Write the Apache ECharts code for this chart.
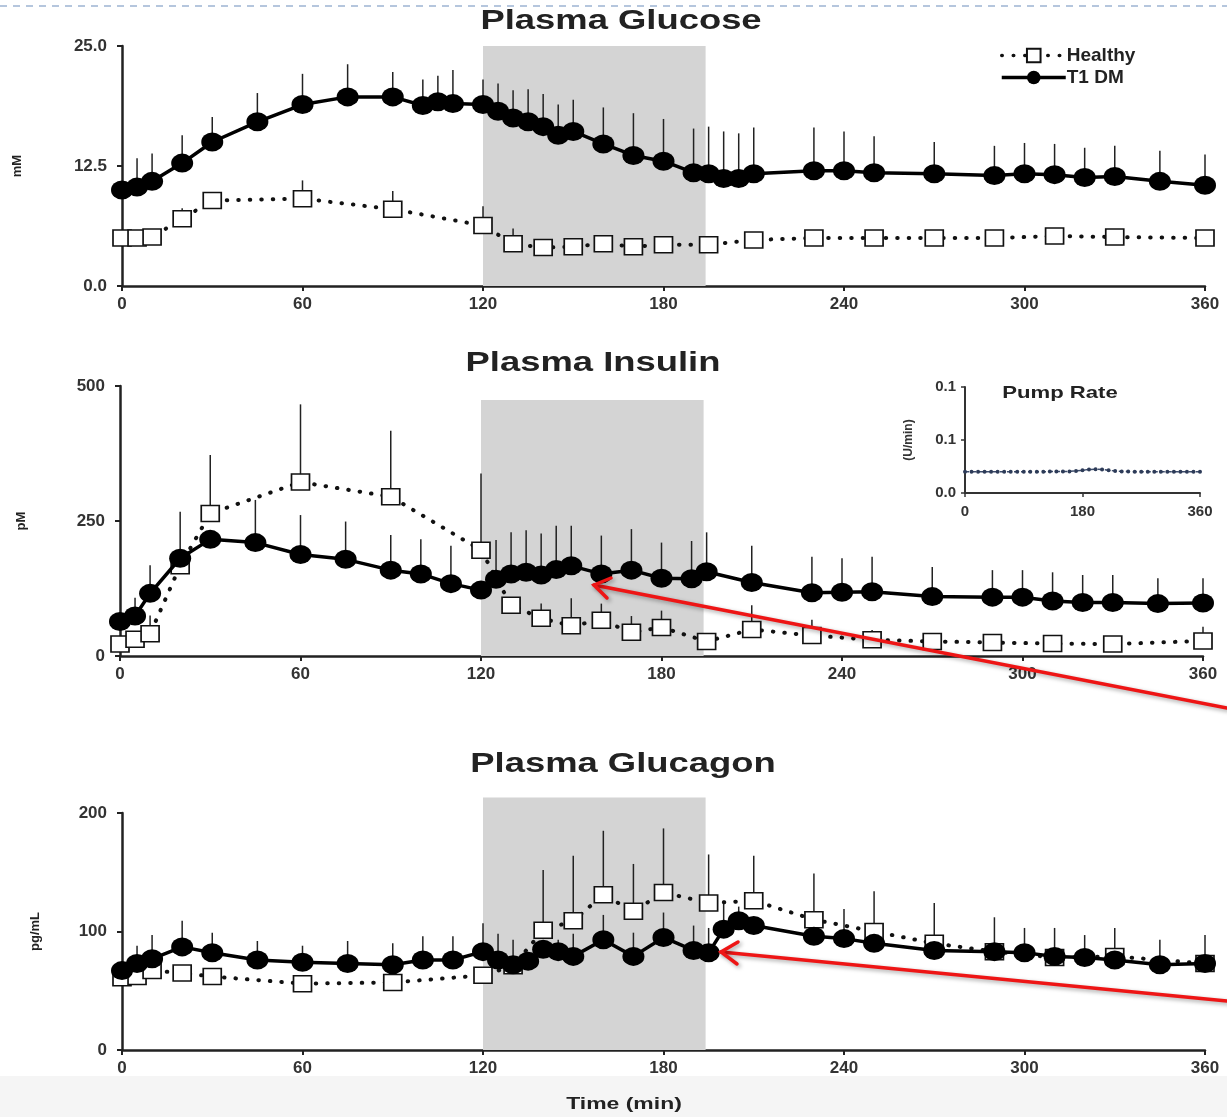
<!DOCTYPE html>
<html>
<head>
<meta charset="utf-8">
<script src="https://cdn.jsdelivr.net/npm/echarts@6/dist/echarts.min.js"></script>
<style>
  html, body { margin: 0; padding: 0; background: #fff; }
  #chart { width: 1227px; height: 1117px; }
</style>
</head>
<body>
<div id="chart"></div>
<script>
// shaded period (min)
var bandStart = 120;
var bandEnd = 194;

// Plasma glucose (mM)
var glucT1Time = [0,5,10,20,30,45,60,75,90,100,105,110,120,125,130,135,140,145,150,160,170,180,190,195,200,205,210,230,240,250,270,290,300,310,320,330,345,360];
var glucT1 = [10.0,10.3,10.9,12.8,15.0,17.1,18.9,19.7,19.7,18.8,19.2,19.0,18.9,18.2,17.5,17.1,16.6,15.7,16.1,14.8,13.6,13.0,11.8,11.7,11.2,11.2,11.7,12.0,12.0,11.8,11.7,11.5,11.7,11.6,11.3,11.4,10.9,10.5];
var glucT1Hi = [10.0,13.3,13.8,15.7,17.6,20.1,22.1,23.1,22.3,21.5,21.9,22.5,21.5,21.1,20.4,20.5,20.0,18.9,19.4,18.6,18.0,17.4,16.4,16.6,16.1,15.9,16.5,16.5,16.1,15.6,15.0,14.6,14.9,14.8,14.4,14.6,14.1,13.7];
var glucHTime = [0,5,10,20,30,60,90,120,130,140,150,160,170,180,195,210,230,250,270,290,310,330,360];
var glucH = [5.0,5.0,5.1,7.0,8.9,9.1,8.0,6.3,4.4,4.0,4.1,4.4,4.1,4.3,4.3,4.8,5.0,5.0,5.0,5.0,5.2,5.1,5.0];
var glucHHi = [5.0,5.0,5.0,8.1,8.9,11.0,9.9,8.3,6.0,4.5,4.7,4.9,4.6,4.8,4.6,5.0,5.0,5.0,5.0,5.0,5.3,5.1,5.0];

// Plasma insulin (pM)
var insT1Time = [0,5,10,20,30,45,60,75,90,100,110,120,125,130,135,140,145,150,160,170,180,190,195,210,230,240,250,270,290,300,310,320,330,345,360];
var insT1 = [64,74,116,181,216,210,188,179,159,152,134,122,142,152,155,150,160,167,152,159,144,143,156,136,117,118,119,110,109,109,102,99,99,97,98];
var insT1Hi = [64,108,168,267,216,289,261,249,224,216,204,122,215,229,233,227,241,241,223,235,210,213,229,204,184,181,184,165,159,159,155,150,150,144,144];
var insHTime = [0,5,10,20,30,60,90,120,130,140,150,160,170,180,195,210,230,250,270,290,310,330,360];
var insH = [22,31,41,167,264,322,295,196,94,70,56,66,44,53,27,49,38,30,27,25,23,22,28];
var insHHi = [22,31,75,167,372,466,417,338,94,97,107,97,74,84,27,94,67,48,41,39,30,28,54];

// Pump rate inset (U/min)
var pumpTime = [0,10,20,30,40,50,60,70,80,90,100,110,120,130,140,150,160,170,180,190,200,210,220,230,240,250,260,270,280,290,300,310,320,330,340,350,360];
var pumpRate = [0.020,0.020,0.020,0.020,0.020,0.020,0.020,0.020,0.020,0.020,0.020,0.020,0.020,0.0202,0.0202,0.0202,0.0204,0.0208,0.0214,0.0222,0.0224,0.0222,0.0214,0.0208,0.0204,0.0202,0.020,0.020,0.020,0.020,0.020,0.020,0.020,0.020,0.020,0.020,0.020];

// Plasma glucagon (pg/mL)
var gcgT1Time = [0,5,10,20,30,45,60,75,90,100,110,120,125,130,135,140,145,150,160,170,180,190,195,200,205,210,230,240,250,270,290,300,310,320,330,345,360];
var gcgT1 = [67,73,77,87,82,76,74,73,72,76,76,83,76,72,75,85,83,79,93,79,95,84,82,102,109,105,96,94,90,84,83,82,79,78,76,72,73];
var gcgT1Hi = [67,88,97,109,99,92,88,92,90,96,96,107,98,93,75,85,93,98,114,99,116,105,103,126,121,105,96,119,90,84,112,103,103,97,103,93,97];
var gcgHTime = [0,5,10,20,30,60,90,120,130,140,150,160,170,180,195,210,230,250,270,290,310,330,360];
var gcgH = [61,62,67,65,62,56,57,63,71,101,109,131,117,133,124,126,110,100,90,83,78,79,73];
var gcgHHi = [61,62,67,65,62,56,57,63,71,152,164,185,157,187,165,164,149,134,124,83,78,82,73];

function zip(t, v) { return t.map(function (x, i) { return [x, v[i]]; }); }
function zip3(t, v, h) { return t.map(function (x, i) { return [x, v[i], h[i]]; }); }

var font = 'Liberation Sans, Arial, sans-serif';
var axisColor = '#222';
var labelStyle = { color: '#333', fontSize: 17, fontWeight: 'bold', fontFamily: font };

function xAxisFor(gi) {
  return {
    type: 'value', gridIndex: gi, min: 0, max: 360, interval: 60,
    axisLine: { lineStyle: { color: axisColor, width: 2.5 } },
    axisTick: { lineStyle: { color: axisColor, width: 2 }, length: 5 },
    axisLabel: Object.assign({ margin: 10 }, labelStyle),
    splitLine: { show: false }
  };
}
function yAxisFor(gi, max, interval, name, gap, fmt) {
  return {
    type: 'value', gridIndex: gi, min: 0, max: max, interval: interval,
    name: name, nameLocation: 'middle', nameRotate: 90, nameGap: gap,
    nameTextStyle: { color: '#222', fontSize: 13, fontWeight: 'bold', fontFamily: font },
    axisLine: { show: true, lineStyle: { color: axisColor, width: 2.5 } },
    axisTick: { show: true, lineStyle: { color: axisColor, width: 2 }, length: 5 },
    axisLabel: Object.assign({ margin: 15, formatter: fmt }, labelStyle),
    splitLine: { show: false }
  };
}

function bandSeries(gi, top) {
  return {
    type: 'custom', name: 'band' + gi, xAxisIndex: gi, yAxisIndex: gi, z: 1, silent: true,
    data: [[bandStart, bandEnd, top]],
    renderItem: function (params, api) {
      var p0 = api.coord([api.value(0), 0]);
      var p1 = api.coord([api.value(1), api.value(2)]);
      return { type: 'rect', shape: { x: p0[0], y: p1[1], width: p1[0] - p0[0], height: p0[1] - p1[1] },
        style: { fill: '#d4d4d4' } };
    }
  };
}
function errSeries(gi, name, t, v, h) {
  return {
    type: 'custom', name: name, xAxisIndex: gi, yAxisIndex: gi, z: 2, silent: true,
    data: zip3(t, v, h),
    renderItem: function (params, api) {
      var a = api.coord([api.value(0), api.value(1)]);
      var b = api.coord([api.value(0), api.value(2)]);
      return { type: 'line', shape: { x1: a[0], y1: a[1], x2: b[0], y2: b[1] },
        style: { stroke: '#222', lineWidth: 1.5 } };
    }
  };
}
function healthySeries(gi, t, v) {
  return {
    type: 'line', name: 'Healthy', xAxisIndex: gi, yAxisIndex: gi, z: 3,
    data: zip(t, v), symbol: 'rect', symbolSize: [18, 16], showAllSymbol: true,
    itemStyle: { color: '#fff', borderColor: '#111', borderWidth: 1.6 },
    lineStyle: { color: '#111', width: 4, type: [0.5, 11], cap: 'round' }
  };
}
function t1Series(gi, t, v) {
  return {
    type: 'line', name: 'T1 DM', xAxisIndex: gi, yAxisIndex: gi, z: 4,
    data: zip(t, v), symbol: 'circle', symbolSize: [22, 19], showAllSymbol: true,
    itemStyle: { color: '#000' },
    lineStyle: { color: '#000', width: 3.5 }
  };
}

function arrow(x1, y1, x2, y2, a1, a2) {
  var shadow = { shadowBlur: 4, shadowColor: 'rgba(0,0,0,0.35)', shadowOffsetX: 2, shadowOffsetY: 2 };
  var st = Object.assign({ stroke: '#ee1515', lineWidth: 3.5, lineCap: 'round' }, shadow);
  return [
    { type: 'line', z: 100, shape: { x1: x1, y1: y1, x2: x2, y2: y2 }, style: st },
    { type: 'polyline', z: 100, shape: { points: [a1, [x2, y2], a2] }, style: Object.assign({ fill: null }, st) }
  ];
}

// stretched bold text, the picture's lettering is wide
function wideText(x, y, text, size, sx) {
  return {
    type: 'text', z: 10, x: x, y: y, scaleX: sx, scaleY: 1,
    style: { text: text, fill: '#222', font: 'bold ' + size + 'px ' + font, textAlign: 'center', textVerticalAlign: 'middle' }
  };
}

var chart = echarts.init(document.getElementById('chart'), null, { renderer: 'canvas' });

var option = {
  animation: false,
  backgroundColor: '#fff',
  legend: {
    data: ['Healthy', 'T1 DM'], orient: 'vertical', left: 995, top: 41,
    itemWidth: 64, itemHeight: 17, itemGap: 3, selectedMode: false,
    lineStyle: { width: 3.5 },
    textStyle: { color: '#222', fontSize: 19, fontWeight: 'bold', fontFamily: font, padding: [0, 0, 0, -4] }
  },
  grid: [
    { left: 122, right: 22, top: 46, height: 240 },
    { left: 120, right: 24, top: 386, height: 270 },
    { left: 122, right: 22, top: 813, height: 237 },
    { left: 965, right: 27, top: 387, height: 106 }
  ],
  xAxis: [
    xAxisFor(0), xAxisFor(1), xAxisFor(2),
    {
      type: 'value', gridIndex: 3, min: 0, max: 360, interval: 180,
      axisLine: { lineStyle: { color: '#333', width: 2 } },
      axisTick: { lineStyle: { color: '#333', width: 1.5 }, length: 4 },
      axisLabel: { margin: 11, color: '#333', fontSize: 15, fontWeight: 'bold', fontFamily: font },
      splitLine: { show: false }
    }
  ],
  yAxis: [
    yAxisFor(0, 25, 12.5, 'mM', 98, function (v) { return v.toFixed(1); }),
    yAxisFor(1, 500, 250, 'pM', 92, null),
    yAxisFor(2, 200, 100, 'pg/mL', 80, null),
    {
      type: 'value', gridIndex: 3, min: 0, max: 0.1, interval: 0.05,
      name: '(U/min)', nameLocation: 'middle', nameRotate: 90, nameGap: 50,
      nameTextStyle: { color: '#333', fontSize: 12, fontWeight: 'bold', fontFamily: font },
      axisLine: { show: true, lineStyle: { color: '#333', width: 2 } },
      axisTick: { show: true, lineStyle: { color: '#333', width: 1.5 }, length: 4 },
      axisLabel: { margin: 9, color: '#333', fontSize: 15, fontWeight: 'bold', fontFamily: font,
        formatter: function (v) { return v.toFixed(1); } },
      splitLine: { show: false }
    }
  ],
  series: [
    bandSeries(0, 25), bandSeries(1, 474), bandSeries(2, 213),
    errSeries(0, 'gHerr', glucHTime, glucH, glucHHi),
    errSeries(0, 'gTerr', glucT1Time, glucT1, glucT1Hi),
    healthySeries(0, glucHTime, glucH),
    t1Series(0, glucT1Time, glucT1),
    errSeries(1, 'iHerr', insHTime, insH, insHHi),
    errSeries(1, 'iTerr', insT1Time, insT1, insT1Hi),
    healthySeries(1, insHTime, insH),
    t1Series(1, insT1Time, insT1),
    errSeries(2, 'cHerr', gcgHTime, gcgH, gcgHHi),
    errSeries(2, 'cTerr', gcgT1Time, gcgT1, gcgT1Hi),
    healthySeries(2, gcgHTime, gcgH),
    t1Series(2, gcgT1Time, gcgT1),
    {
      type: 'line', name: 'Pump', xAxisIndex: 3, yAxisIndex: 3, z: 3,
      data: zip(pumpTime, pumpRate), symbol: 'circle', symbolSize: 4, showAllSymbol: true,
      itemStyle: { color: '#2d3b58' },
      lineStyle: { color: '#3c4c6c', width: 1.5, type: [4, 3] }
    }
  ],
  graphic: [
    { type: 'line', z: 0, shape: { x1: 0, y1: 6, x2: 1227, y2: 6 },
      style: { stroke: '#9db4d2', lineWidth: 1.5, lineDash: [7, 6] } },
    { type: 'rect', z: -1, shape: { x: 0, y: 1076, width: 1227, height: 41 }, style: { fill: '#f5f5f5' } },
    wideText(621, 21, 'Plasma Glucose', 28, 1.3),
    wideText(593, 363, 'Plasma Insulin', 28, 1.3),
    wideText(623, 764, 'Plasma Glucagon', 28, 1.3),
    wideText(1060, 393, 'Pump Rate', 17, 1.3),
    wideText(624, 1104, 'Time (min)', 17, 1.35)
  ].concat(
    arrow(1227, 708, 594, 585, [607, 598], [611, 578]),
    arrow(1227, 1001, 721, 952, [737, 964], [738, 942])
  )
};

chart.setOption(option);
</script>
</body>
</html>
